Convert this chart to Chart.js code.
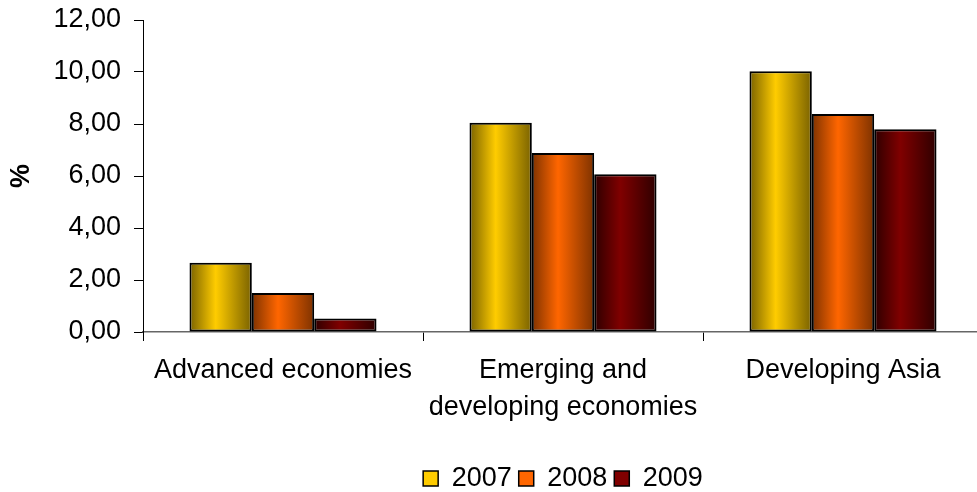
<!DOCTYPE html>
<html>
<head>
<meta charset="utf-8">
<script src="https://cdn.jsdelivr.net/npm/chart.js@4/dist/chart.umd.min.js"></script>
<style>
html, body { margin:0; padding:0; background:#fff; width:977px; height:492px; overflow:hidden; }
#wrap { width:990px; height:492px; }
canvas { display:block; }
</style>
</head>
<body>
<div id="wrap"><canvas id="c" width="990" height="492" style="width:990px;height:492px"></canvas></div>
<script>
// ---- data ----
const categories = ['Advanced economies', ['Emerging and', 'developing economies'], 'Developing Asia'];
const seriesNames = ['2007', '2008', '2009'];
const values2007 = [2.66, 8.05, 10.03];
const values2008 = [1.50, 6.88, 8.38];
const values2009 = [0.52, 6.07, 7.80];
const yTickLabels = ['0,00', '2,00', '4,00', '6,00', '8,00', '10,00', '12,00'];

// ---- styles ----
const brightColors = ['#FFCC00', '#FF6600', '#800000'];
const edgeColors = ['#7A6200', '#7E3200', '#2E0000'];
const FONT = '"Liberation Sans", Arial, Helvetica, sans-serif';

Chart.defaults.font.family = FONT;
Chart.defaults.color = '#000';

const gradientBars = {
  id: 'gradientBars',
  beforeDatasetsDraw(chart) {
    const ctx = chart.ctx;
    chart.data.datasets.forEach((ds, i) => {
      const meta = chart.getDatasetMeta(i);
      meta.data.forEach(el => {
        const l = el.x - el.width / 2, r = el.x + el.width / 2;
        const g = ctx.createLinearGradient(l, 0, r, 0);
        g.addColorStop(0, edgeColors[i]);
        g.addColorStop(0.42, brightColors[i]);
        g.addColorStop(1, edgeColors[i]);
        el.options = Object.assign({}, el.options, { backgroundColor: g });
      });
    });
  }
};

const seriesValues = [values2007, values2008, values2009];
const datasets = seriesNames.map((name, i) => ({
  label: name,
  data: seriesValues[i],
  backgroundColor: brightColors[i],
  borderColor: '#000',
  borderWidth: 2,
  borderSkipped: false,
  barPercentage: 1.0,
  categoryPercentage: 0.668
}));

new Chart(document.getElementById('c'), {
  type: 'bar',
  data: { labels: categories, datasets },
  plugins: [gradientBars],
  options: {
    responsive: false,
    animation: false,
    events: [],
    layout: { padding: { top: 20, right: 7, bottom: 0, left: 0 } },
    plugins: {
      tooltip: { enabled: false },
      legend: {
        position: 'bottom',
        fullSize: false,
        maxHeight: 34,
        labels: {
          font: { size: 27, family: FONT },
          color: '#000',
          boxWidth: 15,
          boxHeight: 15,
          padding: 7,
          generateLabels(chart) {
            const items = Chart.defaults.plugins.legend.labels.generateLabels(chart);
            items.forEach((it, i) => { it.lineWidth = 1.5; it.strokeStyle = '#000'; it.fillStyle = brightColors[i]; });
            return items;
          }
        }
      }
    },
    scales: {
      x: {
        grid: { offset: true, drawOnChartArea: false, tickLength: 9, color: '#000', lineWidth: 1 },
        border: { color: '#666', width: 1.5 },
        ticks: {
          font: { size: 27, family: FONT, lineHeight: 1.37 },
          color: '#000',
          padding: 11,
          maxRotation: 0,
          minRotation: 0,
          autoSkip: false
        },
        afterFit(s) { s.height = 126; }
      },
      y: {
        min: 0,
        max: 12,
        grid: { drawOnChartArea: false, tickLength: 9, color: '#000', lineWidth: 1 },
        border: { color: '#000', width: 1 },
        ticks: {
          stepSize: 2,
          font: { size: 27, family: FONT, lineHeight: 0.5 },
          color: '#000',
          padding: 13,
          callback: (v, i) => yTickLabels[i]
        },
        title: {
          display: true,
          text: '%',
          font: { size: 27, weight: 'bold', family: FONT },
          color: '#000',
          padding: { top: 5, bottom: 0 }
        },
        afterFit(s) { s.width = 143; }
      }
    }
  }
});
</script>
</body>
</html>
